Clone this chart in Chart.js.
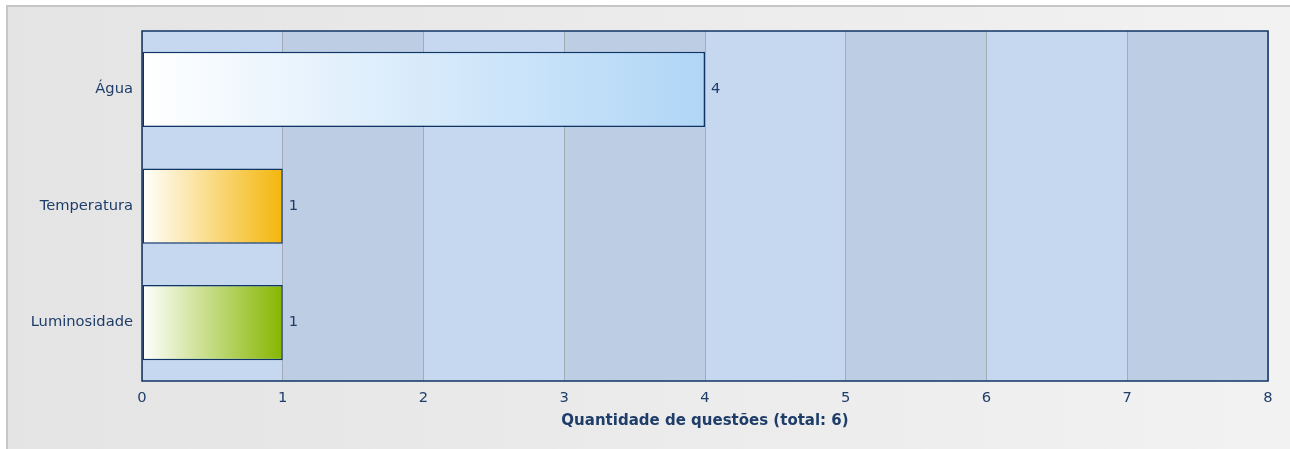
<html>
<head>
    <meta charset="UTF-8">
    <title>Quantidade de questões</title>
    <script src="https://cdn.jsdelivr.net/npm/chart.js@4.4.1/dist/chart.umd.min.js"></script>
    <style>
        html, body { margin: 0; padding: 0; background: #ffffff; }
        #wrap { width: 1290px; height: 449px; position: relative; }
    </style>
</head>
<body>
<div id="wrap"><canvas id="myChart"></canvas></div>

<script>
    var categories = ['Água', 'Temperatura', 'Luminosidade'];
    var values = [4, 1, 1];
    var barEndColors = ['#b0d6f6', '#f4b60a', '#86b600'];
    var xTicks = [0, 1, 2, 3, 4, 5, 6, 7, 8];
    var axisTitle = 'Quantidade de questões (total: 6)';

    var textColor = '#1f3d69';
    var navy = '#0f3564';

    // background frame + alternating column bands
    var bgPlugin = {
        id: 'bgPlugin',
        beforeDraw: function (chart) {
            var ctx = chart.ctx, area = chart.chartArea, x = chart.scales.x;
            ctx.save();
            var g = ctx.createLinearGradient(6, 0, chart.width, 0);
            g.addColorStop(0, '#e4e4e4');
            g.addColorStop(1, '#f2f2f2');
            ctx.fillStyle = g;
            ctx.fillRect(6, 5, chart.width, chart.height);
            ctx.strokeStyle = '#c6c6c6';
            ctx.lineWidth = 2;
            ctx.beginPath();
            ctx.moveTo(7, chart.height + 2);
            ctx.lineTo(7, 6);
            ctx.lineTo(chart.width + 2, 6);
            ctx.stroke();

            for (var i = 0; i < xTicks.length - 1; i++) {
                var x0 = x.getPixelForValue(xTicks[i]);
                var x1 = x.getPixelForValue(xTicks[i + 1]);
                ctx.fillStyle = (i % 2 === 0) ? '#c6d8f0' : '#bdcde4';
                ctx.fillRect(x0, area.top, x1 - x0, area.bottom - area.top);
            }
            ctx.restore();
        },
        afterDatasetsDraw: function (chart) {
            var ctx = chart.ctx, area = chart.chartArea;
            ctx.save();
            ctx.strokeStyle = navy;
            ctx.lineWidth = 1.5;
            ctx.strokeRect(area.left, area.top, area.right - area.left, area.bottom - area.top);

            var meta = chart.getDatasetMeta(0);
            ctx.fillStyle = textColor;
            ctx.font = '14.7px "DejaVu Sans"';
            ctx.textAlign = 'left';
            ctx.textBaseline = 'middle';
            meta.data.forEach(function (bar, i) {
                ctx.fillText(String(values[i]), bar.x + 6, bar.y);
            });
            ctx.restore();
        }
    };

    function barGradient(context) {
        var chart = context.chart;
        if (!chart.chartArea || !chart.scales.x) {
            return barEndColors[context.dataIndex];
        }
        var x = chart.scales.x;
        var x0 = x.getPixelForValue(0);
        var x1 = x.getPixelForValue(values[context.dataIndex]);
        var g = chart.ctx.createLinearGradient(x0, 0, x1, 0);
        g.addColorStop(0, '#ffffff');
        g.addColorStop(1, barEndColors[context.dataIndex]);
        return g;
    }

    var ctx = document.getElementById('myChart');
    var myChart = new Chart(ctx, {
        type: 'bar',
        data: {
            labels: categories,
            datasets: [{
                data: values,
                backgroundColor: barGradient,
                borderColor: navy,
                borderWidth: 1.5,
                borderSkipped: false,
                barPercentage: 0.645,
                categoryPercentage: 1
            }]
        },
        plugins: [bgPlugin],
        options: {
            indexAxis: 'y',
            responsive: true,
            maintainAspectRatio: false,
            animation: false,
            layout: { padding: { left: 0, right: 22, top: 31, bottom: 0 } },
            plugins: {
                legend: { display: false },
                tooltip: { enabled: false }
            },
            scales: {
                x: {
                    min: 0,
                    max: 8,
                    afterBuildTicks: function (scale) {
                        scale.ticks = xTicks.map(function (v) { return { value: v }; });
                    },
                    afterFit: function (scale) { scale.height = 68; },
                    grid: { color: '#a3abb6', lineWidth: 1, drawTicks: false },
                    border: { display: false },
                    ticks: {
                        color: textColor,
                        padding: 8,
                        font: { family: 'DejaVu Sans', size: 14.7 },
                        maxRotation: 0
                    },
                    title: {
                        display: true,
                        text: axisTitle,
                        color: textColor,
                        font: { family: 'DejaVu Sans', size: 15, weight: 'bold' },
                        padding: { top: 0, bottom: 19 }
                    }
                },
                y: {
                    afterFit: function (scale) { scale.width = 142; },
                    grid: { display: false, drawTicks: false },
                    border: { display: false },
                    ticks: {
                        color: textColor,
                        padding: 9,
                        font: { family: 'DejaVu Sans', size: 14.7 }
                    }
                }
            }
        }
    });
</script>
</body>
</html>
